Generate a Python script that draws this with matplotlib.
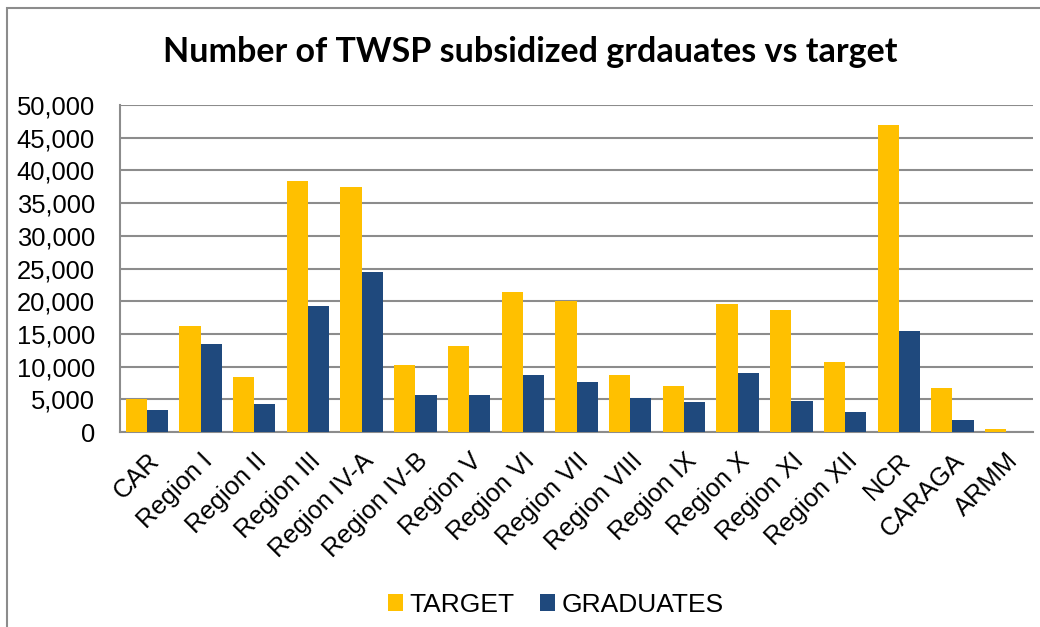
import matplotlib
matplotlib.use("Agg")
import matplotlib.pyplot as plt
import numpy as np
from matplotlib.ticker import FuncFormatter
from matplotlib.patches import Rectangle

regions = ["CAR", "Region I", "Region II", "Region III", "Region IV-A", "Region IV-B",
           "Region V", "Region VI", "Region VII", "Region VIII", "Region IX", "Region X",
           "Region XI", "Region XII", "NCR", "CARAGA", "ARMM"]
target = [5000, 16200, 8450, 38450, 37500, 10300, 13150, 21350, 19980, 8650, 7100,
          19570, 18700, 10750, 47000, 6730, 500]
graduates = [3350, 13400, 4330, 19320, 24450, 5700, 5700, 8700, 7650, 5250, 4600,
             9070, 4800, 3050, 15500, 1900, 0]
yticks = list(range(0, 50001, 5000))

W, H = 1040, 627
fig = plt.figure(figsize=(W / 100, H / 100), dpi=100)
fig.patches.append(Rectangle((7 / W, -0.1), 1.2, 1 - 8 / H + 0.1, transform=fig.transFigure,
                             fill=False, edgecolor="#8c8c8c", linewidth=1.5))

ax = fig.add_axes([120 / W, 1 - 432 / H, (1033 - 120) / W, (432 - 105) / H])
x = np.arange(len(regions))
bw = 0.395
ax.bar(x - bw / 2, target, width=bw, color="#FFC000", label="TARGET", zorder=3)
ax.bar(x + bw / 2, graduates, width=bw, color="#1F497D", label="GRADUATES", zorder=3)

ax.set_xlim(-0.5, len(regions) - 0.5)
ax.set_ylim(0, 50000)
ax.set_yticks(yticks)
ax.yaxis.set_major_formatter(FuncFormatter(lambda v, p: f"{int(v):,}"))
ax.grid(axis="y", color="#8c8c8c", linewidth=1.5, zorder=0)
for s in ["top", "right"]:
    ax.spines[s].set_visible(False)
for s in ["left", "bottom"]:
    ax.spines[s].set_color("#8c8c8c")
    ax.spines[s].set_linewidth(1.5)
ax.tick_params(axis="y", length=0, pad=18, labelsize=18.4)
ax.tick_params(axis="x", length=0, pad=12, labelsize=18.4)
for lab in ax.get_yticklabels():
    lab.set_family("Liberation Sans")
ax.set_xticks(x)
ax.set_xticklabels(regions, rotation=45, ha="right", rotation_mode="anchor",
                   family="Liberation Sans")

fig.text(530 / W, 1 - 52 / H, "Number of TWSP subsidized grdauates vs target",
         ha="center", va="center", fontsize=24.5, fontweight="bold", family="Lato")

leg = fig.legend(loc="center", bbox_to_anchor=(556 / W, 1 - 605 / H), ncol=2, frameon=False,
                 prop={"family": "Liberation Sans", "size": 19}, handlelength=0.58,
                 handleheight=0.58, handletextpad=0.25, columnspacing=0.95)

fig.savefig("out.png", dpi=100)
